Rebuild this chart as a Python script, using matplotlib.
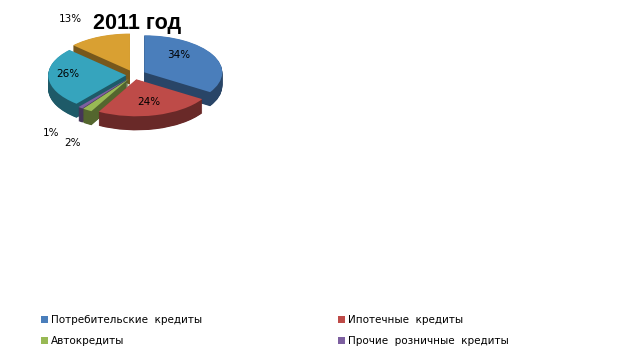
import numpy as np
import matplotlib.pyplot as plt
from matplotlib.patches import Patch
from matplotlib.colors import to_rgb

# Data (2011, share of retail loans, %)
categories = ["Потребительские  кредиты", "Ипотечные  кредиты", "Автокредиты",
              "Прочие  розничные  кредиты", "", ""]
shares = [34, 24, 2, 1, 26, 13]
colors = ["#4a7ebb", "#be4b48", "#98b954", "#7d60a0", "#36a4bd", "#d9a032"]
explode = [0.15, 0.12, 0.12, 0.12, 0.1, 0.13]
title = "2011 год"

W, H = 624, 364
fig = plt.figure(figsize=(W / 100, H / 100), dpi=100)
fig.patch.set_facecolor("white")

# axes for the pie: 1 unit x = 78 px, 1 unit y = 37 px (tilted look)
sx, sy = 78, 37
cx, cy = 134, 75
ax_left, ax_w = cx - 120, 240
ax_top, ax_h = 0, 170
ax = fig.add_axes([ax_left / W, 1 - (ax_top + ax_h) / H, ax_w / W, ax_h / H])

depth = 0.38
n_layers = 30


def darker(c, f=0.55):
    r, g, b = to_rgb(c)
    return (r * f, g * f, b * f)


side_colors = [darker(c) for c in colors]

# side walls: stack of darker pies going down
for k in range(n_layers, 0, -1):
    ax.pie(shares, colors=side_colors, explode=explode, startangle=90,
           counterclock=False, center=(0, -depth * k / n_layers),
           wedgeprops=dict(linewidth=0))
# top face
ax.pie(shares, colors=colors, explode=explode, startangle=90,
       counterclock=False, wedgeprops=dict(linewidth=0))

ax.set_aspect("auto")
ax.set_xlim(-(cx - ax_left) / sx, (ax_left + ax_w - cx) / sx)
ax.set_ylim(-(ax_h - cy) / sy, cy / sy)
ax.axis("off")

# percentage labels
label_r = [0.78, 0.75, 2.0, 1.9, 0.85, 1.72]
label_shift = [14, 0, 9, 4, -6, 5]  # degrees of rotation along the rim
cum = np.cumsum([0] + shares)
for i, s in enumerate(shares):
    mid = 90 - (cum[i] + s / 2) * 3.6 + label_shift[i]
    a = np.radians(mid)
    ax.text(label_r[i] * np.cos(a), label_r[i] * np.sin(a), f"{s}%",
            ha="center", va="center", fontsize=7.5, color="black", zorder=10)

fig.text(137 / W, 1 - 24 / H, title, ha="center", va="center",
         fontsize=15.5, fontweight="bold", family="Liberation Sans", zorder=20)

# legend (only the first four entries are visible)
handles = [Patch(facecolor=colors[i], edgecolor="none") for i in (0, 2, 1, 3)]
labels = [categories[i] for i in (0, 2, 1, 3)]
fig.legend(handles, labels, ncol=2, loc="upper left",
           bbox_to_anchor=(32 / W, 1 - 306 / H), frameon=False,
           fontsize=7.5, handlelength=0.65, handleheight=0.65,
           handletextpad=0.3, columnspacing=13.0, labelspacing=1.0)

fig.savefig("out.png", dpi=100)
